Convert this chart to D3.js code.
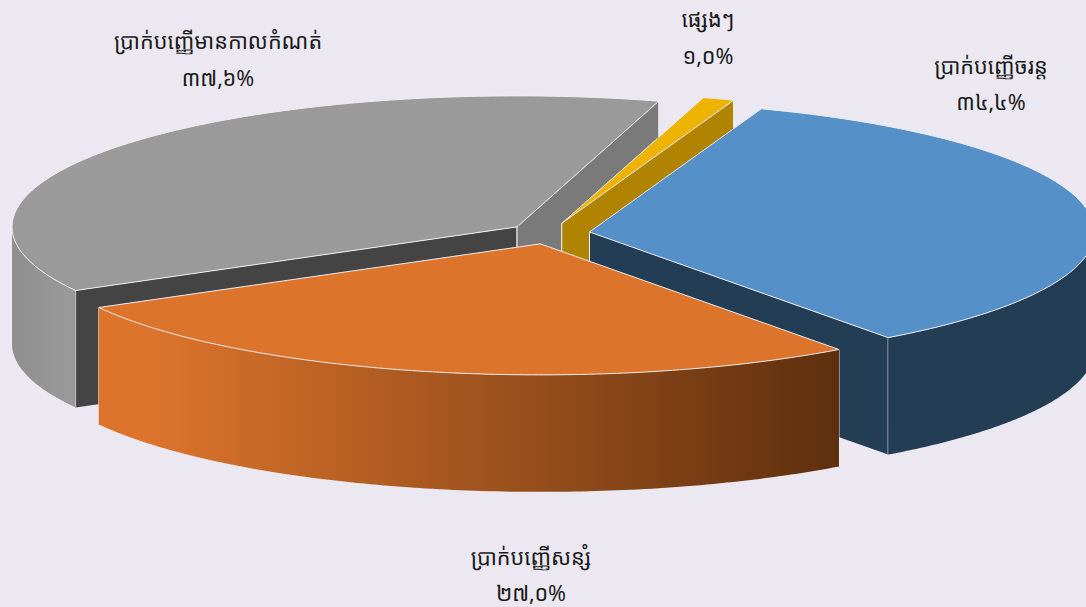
<!DOCTYPE html>
<html>
<head>
<meta charset="utf-8">
<script src="https://cdnjs.cloudflare.com/ajax/libs/d3/7.8.5/d3.min.js"></script>
<style>
html,body{margin:0;padding:0;background:#ebe8f1;overflow:hidden}
svg{display:block}
text{font-family:"Noto Sans Khmer","Khmer OS Content","Khmer OS","Noto Serif Khmer","Noto Sans","DejaVu Sans",sans-serif;font-size:21.6px;fill:#1a1a1a;text-anchor:middle}
</style>
</head>
<body>
<svg id="c" width="1086" height="607"></svg>
<script>
// Data (drawn clockwise from the blue slice)
const categories = ["ប្រាក់បញ្ញើចរន្ត", "ប្រាក់បញ្ញើសន្សំ", "ប្រាក់បញ្ញើមានកាលកំណត់", "ផ្សេងៗ"];
const shares = [34.4, 27.0, 37.6, 1.0];
const shareLabels = ["៣៤,៤%", "២៧,០%", "៣៧,៦%", "១,០%"];

// Styling
const topColors = ["#5590c8", "#dc742c", "#9a9a9a", "#edb300"];
const wallColors = ["#233d55", "#5e2f0e", "#444444", "#b08400"];
const endWallColors = ["#233d55", "#5e2f0e", "#7a7a7a", "#b08400"];
const rimStops = [["#233d55", "#233d55"], ["#dc742c", "#5e2f0e"], ["#8f8f8f", "#9a9a9a"], ["#b08400", "#b08400"]];
const paintOrder = [2, 3, 0, 1];
const labelPos = [[991, 66, 102], [531, 557, 593], [218, 41, 78], [708, 19, 56]];

const W = 1086, H = 607;
const cx = 549, cy = 233.5, rx = 505, ry = 131, depth = 117, explode = 0.081;
const startDeg = 19.9;

const svg = d3.select("#c");
svg.append("rect").attr("width", W).attr("height", H).attr("fill", "#ebe8f1");
const defs = svg.append("defs");

const pie = d3.pie().sort(null)
  .startAngle(startDeg * Math.PI / 180)
  .endAngle((startDeg + 360) * Math.PI / 180);
const arcs = pie(shares);

// angle 0 = up, clockwise; r is a unit radius; y in elliptical projection
const sx = d3.scaleLinear().domain([-1, 1]).range([-rx, rx]);
const sy = d3.scaleLinear().domain([-1, 1]).range([-ry, ry]);
function centre(a) {
  const mid = (a.startAngle + a.endAngle) / 2;
  return [cx + sx(explode * Math.sin(mid)), cy + sy(-explode * Math.cos(mid))];
}
function rimPoint(a, ang, z) {
  const c = centre(a);
  return [c[0] + sx(Math.sin(ang)), c[1] + sy(-Math.cos(ang)) + z];
}
const line = d3.line();
const sweep = (a0, a1) => d3.range(0, 121).map(i => a0 + (a1 - a0) * i / 120);

paintOrder.forEach(i => {
  const a = arcs[i], c = centre(a);
  const g = svg.append("g");
  // radial walls
  [[a.startAngle, wallColors[i]], [a.endAngle, endWallColors[i]]].forEach(([ang, col], k) => {
    const p = rimPoint(a, ang, 0);
    g.append("path")
      .attr("d", line([c, p, [p[0], p[1] + depth], [c[0], c[1] + depth]]) + "Z")
      .attr("fill", col).attr("stroke", "none");
    g.append("path").attr("d", line([p, [p[0], p[1] + depth]]))
      .attr("stroke", "#f0eef2").attr("stroke-width", 1).attr("fill", "none");
    g.append("path").attr("d", line([c, [c[0], c[1] + depth]]))
      .attr("stroke", "#f0eef2").attr("stroke-width", 1).attr("fill", "none");
  });
  // outer rim: front-facing angle range only
  let lo = Math.max(a.startAngle, Math.PI / 2), hi = Math.min(a.endAngle, 3 * Math.PI / 2);
  if (hi > lo) {
    const pts = sweep(lo, hi).map(t => rimPoint(a, t, 0));
    const lower = pts.slice().reverse().map(p => [p[0], p[1] + depth]);
    const id = "rim" + i;
    const xs = pts.map(p => p[0]);
    const lg = defs.append("linearGradient").attr("id", id)
      .attr("gradientUnits", "userSpaceOnUse")
      .attr("x1", d3.min(xs)).attr("x2", d3.max(xs)).attr("y1", 0).attr("y2", 0);
    lg.append("stop").attr("offset", 0).attr("stop-color", rimStops[i][0]);
    if (i === 1) lg.append("stop").attr("offset", 0.07).attr("stop-color", rimStops[i][0]);
    lg.append("stop").attr("offset", 1).attr("stop-color", rimStops[i][1]);
    g.append("path").attr("d", line(pts.concat(lower)) + "Z")
      .attr("fill", "url(#" + id + ")").attr("stroke", "none");
  }
  // top face
  const top = [c].concat(sweep(a.startAngle, a.endAngle).map(t => rimPoint(a, t, 0)));
  g.append("path").attr("d", line(top) + "Z")
    .attr("fill", topColors[i]).attr("stroke", "#f0eef2").attr("stroke-width", 1)
    .attr("stroke-linejoin", "round");
});

// Labels
categories.forEach((name, i) => {
  const [x, y1, y2] = labelPos[i];
  svg.append("text").attr("x", x).attr("y", y1).attr("dy", "0.35em").text(name);
  svg.append("text").attr("x", x).attr("y", y2).attr("dy", "0.35em").text(shareLabels[i]);
});
</script>
</body>
</html>
